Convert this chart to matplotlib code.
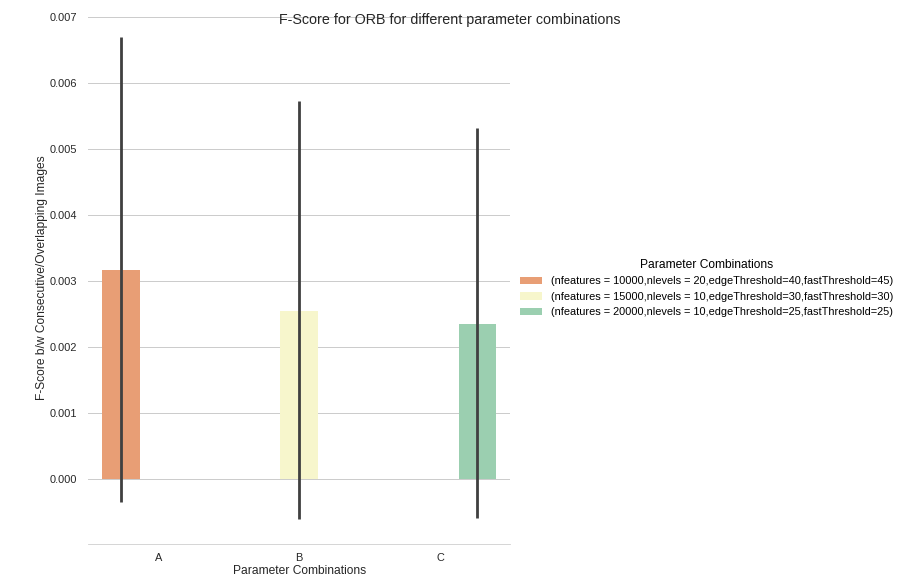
import numpy as np
import matplotlib
matplotlib.use("Agg")
import matplotlib.pyplot as plt
from matplotlib.patches import Patch

# data
categories = ["A", "B", "C"]
hue_labels = [
    "(nfeatures = 10000,nlevels = 20,edgeThreshold=40,fastThreshold=45)",
    "(nfeatures = 15000,nlevels = 10,edgeThreshold=30,fastThreshold=30)",
    "(nfeatures = 20000,nlevels = 10,edgeThreshold=25,fastThreshold=25)",
]
means = [0.00317, 0.00255, 0.00235]
ci_low = [-0.00035, -0.00061, -0.00059]
ci_high = [0.00670, 0.00573, 0.00532]
colors = ["#e89e75", "#f7f6cc", "#9bcfb0"]

plt.rcParams["font.family"] = ["Liberation Sans", "DejaVu Sans"]
plt.rcParams["axes.axisbelow"] = True

fig = plt.figure(figsize=(12.5, 8), dpi=72)
ax = fig.add_axes([0.098, 0.056, 0.469, 0.923])

n_hue = len(hue_labels)
width = 0.8 / n_hue
for i, cat in enumerate(categories):
    # each category only has its own hue level, so bars are dodged
    x = i - 0.4 + width * (i + 0.5)
    ax.bar(x, means[i], width=width, color=colors[i], linewidth=0, zorder=2)
    ax.plot([x, x], [ci_low[i], ci_high[i]], color="#404040", lw=2.8,
            solid_capstyle="butt", zorder=3)

ax.set_xlim(-0.5, 2.5)
ax.set_ylim(-0.00098, 0.00707)
ax.set_xticks(range(len(categories)))
ax.set_xticklabels(categories)
ax.set_yticks(np.arange(0, 0.0071, 0.001))
ax.set_yticklabels([f"{v:.3f}" for v in np.arange(0, 0.0071, 0.001)])
ax.tick_params(axis="both", labelsize=11, length=0, colors="#262626")
ax.tick_params(axis="y", pad=11)
ax.tick_params(axis="x", pad=9)
ax.grid(axis="y", color="#cccccc", lw=1)
for side in ["left", "right", "top"]:
    ax.spines[side].set_visible(False)
ax.spines["bottom"].set_color("#cccccc")

ax.set_xlabel("Parameter Combinations", fontsize=12, color="#262626", labelpad=2)
ax.set_ylabel("F-Score b/w Consecutive/Overlapping Images", fontsize=12,
              color="#262626", labelpad=2)

handles = [Patch(facecolor=c, edgecolor="none") for c in colors]
leg = fig.legend(handles, hue_labels, title="Parameter Combinations",
                 loc="center left", bbox_to_anchor=(0.567, 0.5), frameon=False,
                 fontsize=11, title_fontsize=12)

fig.suptitle("F-Score for ORB for different parameter combinations",
             fontsize=14.3, y=0.978, color="#262626")

fig.savefig("out.png", dpi=72)
